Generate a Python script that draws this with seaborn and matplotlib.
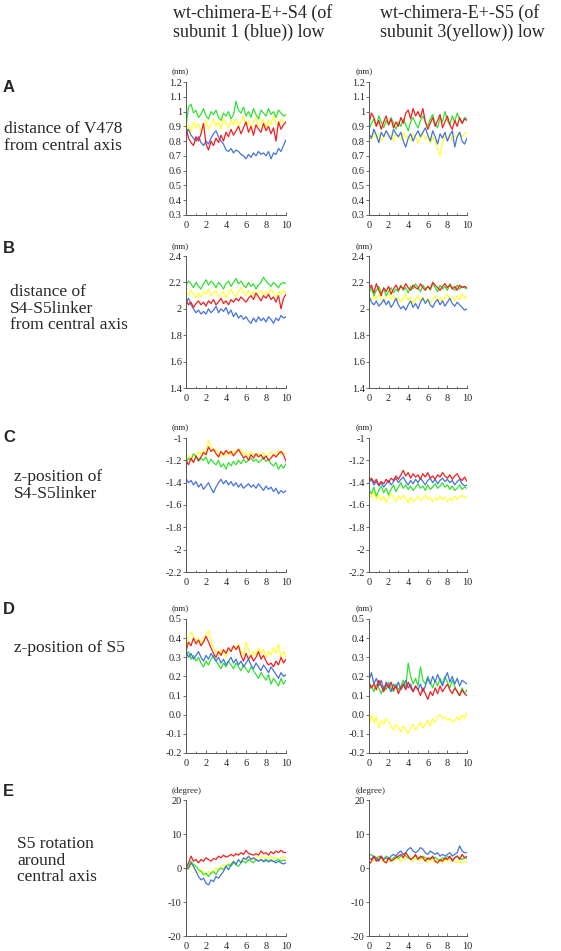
import numpy as np
import matplotlib.pyplot as plt
import seaborn as sns

sns.set_style('ticks')
plt.rcParams['font.family'] = ['Liberation Serif', 'DejaVu Serif']

# time axis (ns), one sample every 0.25 ns
t = np.linspace(0, 10, 41)

# --- A: distance of V478 from central axis ---
blue_A1 = [0.86,0.88,0.84,0.82,0.80,0.83,0.79,0.77,0.80,0.78,0.82,0.85,0.87,0.83,0.80,0.78,0.74,0.73,0.75,0.72,0.74,0.73,0.71,0.70,0.68,0.71,0.69,0.72,0.70,0.73,0.71,0.72,0.70,0.73,0.68,0.72,0.71,0.75,0.73,0.77,0.81]
green_A1 = [0.90,1.03,1.05,0.99,1.01,0.96,0.98,1.02,0.97,0.95,1.00,0.98,1.01,0.96,0.94,0.99,0.97,1.00,0.95,0.98,1.07,1.01,0.99,1.03,0.97,1.00,0.96,1.02,0.98,0.95,1.01,0.99,0.97,1.02,0.98,1.00,0.96,1.01,0.99,0.97,0.98]
yellow_A1 = [0.88,0.91,0.86,0.93,0.89,0.92,0.87,0.90,0.94,0.88,0.91,0.95,0.90,0.93,0.88,0.96,0.92,0.89,0.94,0.91,0.95,0.90,0.93,0.97,0.91,0.94,0.89,0.93,0.96,0.90,0.92,0.95,0.89,0.94,0.91,0.97,0.92,0.90,0.95,0.93,0.92]
red_A1 = [0.90,0.82,0.79,0.77,0.83,0.80,0.85,0.92,0.78,0.74,0.80,0.77,0.82,0.79,0.84,0.80,0.86,0.83,0.88,0.84,0.87,0.90,0.85,0.89,0.93,0.86,0.90,0.84,0.91,0.88,0.86,0.92,0.87,0.90,0.85,0.89,0.80,0.93,0.88,0.91,0.93]

blue_A2 = [0.85,0.82,0.88,0.84,0.79,0.86,0.83,0.87,0.84,0.81,0.88,0.85,0.83,0.86,0.80,0.76,0.82,0.85,0.80,0.84,0.87,0.83,0.86,0.89,0.84,0.80,0.87,0.83,0.78,0.85,0.82,0.86,0.80,0.84,0.87,0.76,0.83,0.86,0.80,0.78,0.82]
green_A2 = [0.88,0.92,0.95,0.90,0.97,0.93,0.89,0.94,0.91,0.96,0.92,0.88,0.93,0.90,0.95,0.91,0.87,0.93,0.96,0.92,0.89,0.94,0.97,0.93,0.90,0.95,0.98,0.92,0.89,0.96,0.93,1.00,0.94,0.91,0.97,0.93,0.99,0.95,0.92,0.96,0.95]
yellow_A2 = [0.84,0.81,0.86,0.82,0.85,0.80,0.83,0.87,0.82,0.84,0.80,0.85,0.83,0.81,0.86,0.82,0.84,0.80,0.85,0.83,0.79,0.82,0.86,0.81,0.84,0.78,0.83,0.80,0.74,0.70,0.79,0.83,0.81,0.85,0.80,0.84,0.82,0.86,0.83,0.85,0.86]
red_A2 = [0.92,0.99,0.96,0.90,0.94,0.88,0.93,0.97,0.91,0.95,0.89,0.93,0.90,0.96,0.92,0.99,1.01,0.95,1.02,0.97,1.00,0.96,1.02,0.93,0.88,0.92,0.96,0.90,0.94,0.98,0.89,0.93,0.97,0.91,0.88,0.94,0.90,0.96,0.92,0.95,0.94]

# --- B: distance of S4-S5linker from central axis ---
blue_B1 = [2.05,2.08,2.03,2.00,1.97,1.99,1.96,1.98,1.96,2.00,1.97,1.99,2.02,1.97,2.00,1.98,2.01,1.96,1.99,1.94,1.97,1.93,1.95,1.92,1.94,1.91,1.89,1.93,1.90,1.94,1.91,1.93,1.90,1.94,1.92,1.89,1.93,1.91,1.95,1.93,1.94]
green_B1 = [2.18,2.21,2.19,2.16,2.20,2.17,2.15,2.19,2.22,2.18,2.21,2.19,2.16,2.20,2.18,2.15,2.19,2.21,2.17,2.20,2.23,2.19,2.21,2.18,2.16,2.20,2.17,2.19,2.15,2.18,2.20,2.24,2.21,2.19,2.17,2.20,2.18,2.16,2.19,2.20,2.19]
yellow_B1 = [2.13,2.10,2.14,2.11,2.08,2.12,2.09,2.13,2.11,2.15,2.10,2.12,2.14,2.09,2.11,2.13,2.08,2.12,2.15,2.11,2.09,2.13,2.16,2.12,2.10,2.14,2.11,2.13,2.09,2.12,2.14,2.10,2.13,2.11,2.15,2.12,2.09,2.13,2.11,2.14,2.12]
red_B1 = [2.07,2.03,2.05,2.01,2.04,2.06,2.03,2.05,2.02,2.06,2.04,2.07,2.03,2.05,2.08,2.04,2.06,2.03,2.07,2.05,2.08,2.06,2.09,2.07,2.05,2.08,2.10,2.07,2.12,2.09,2.06,2.10,2.08,2.11,2.07,2.09,2.05,2.10,2.00,2.08,2.11]

blue_B2 = [2.10,2.05,2.03,2.06,2.02,2.04,2.07,2.03,2.06,2.01,2.04,2.08,2.03,2.00,2.02,1.99,2.03,2.06,2.01,2.04,2.00,2.05,2.08,2.04,2.07,2.03,2.01,2.05,2.07,2.03,2.06,2.02,2.05,2.08,2.04,2.02,2.05,2.03,2.01,1.99,2.00]
green_B2 = [2.12,2.16,2.10,2.14,2.17,2.12,2.15,2.10,2.13,2.16,2.12,2.15,2.13,2.18,2.14,2.16,2.12,2.17,2.15,2.19,2.16,2.13,2.18,2.15,2.17,2.14,2.19,2.16,2.13,2.18,2.15,2.17,2.14,2.19,2.16,2.14,2.18,2.15,2.17,2.16,2.15]
yellow_B2 = [2.09,2.06,2.10,2.07,2.11,2.08,2.05,2.09,2.12,2.07,2.10,2.06,2.09,2.05,2.08,2.11,2.06,2.09,2.04,2.07,2.10,2.06,2.09,2.05,2.08,2.04,2.07,2.10,2.06,2.09,2.05,2.08,2.11,2.07,2.09,2.06,2.10,2.07,2.11,2.08,2.10]
red_B2 = [2.15,2.18,2.12,2.19,2.14,2.10,2.16,2.13,2.17,2.11,2.15,2.18,2.14,2.17,2.15,2.19,2.16,2.14,2.18,2.16,2.15,2.19,2.16,2.14,2.17,2.15,2.20,2.18,2.16,2.14,2.17,2.19,2.16,2.18,2.15,2.17,2.14,2.18,2.16,2.17,2.16]

# --- C: z-position of S4-S5linker ---
blue_C1 = [-1.36,-1.40,-1.38,-1.42,-1.39,-1.44,-1.41,-1.46,-1.43,-1.40,-1.45,-1.49,-1.44,-1.40,-1.37,-1.41,-1.38,-1.42,-1.39,-1.43,-1.40,-1.44,-1.41,-1.45,-1.43,-1.41,-1.44,-1.42,-1.45,-1.41,-1.44,-1.47,-1.43,-1.46,-1.44,-1.48,-1.45,-1.50,-1.47,-1.49,-1.47]
green_C1 = [-1.22,-1.18,-1.20,-1.14,-1.17,-1.21,-1.18,-1.20,-1.17,-1.23,-1.19,-1.22,-1.24,-1.20,-1.26,-1.23,-1.28,-1.22,-1.25,-1.21,-1.24,-1.20,-1.23,-1.19,-1.22,-1.20,-1.18,-1.21,-1.19,-1.22,-1.20,-1.17,-1.21,-1.19,-1.23,-1.25,-1.22,-1.28,-1.24,-1.27,-1.23]
yellow_C1 = [-1.18,-1.15,-1.20,-1.14,-1.17,-1.12,-1.15,-1.11,-1.13,-1.02,-1.08,-1.12,-1.10,-1.14,-1.17,-1.13,-1.16,-1.12,-1.15,-1.11,-1.14,-1.12,-1.10,-1.15,-1.13,-1.16,-1.12,-1.15,-1.17,-1.14,-1.16,-1.13,-1.17,-1.15,-1.12,-1.16,-1.14,-1.11,-1.15,-1.13,-1.14]
red_C1 = [-1.20,-1.24,-1.18,-1.22,-1.16,-1.20,-1.17,-1.13,-1.15,-1.08,-1.12,-1.10,-1.14,-1.17,-1.12,-1.15,-1.11,-1.14,-1.12,-1.16,-1.13,-1.10,-1.14,-1.18,-1.16,-1.20,-1.15,-1.18,-1.14,-1.17,-1.15,-1.19,-1.16,-1.20,-1.18,-1.15,-1.17,-1.14,-1.12,-1.15,-1.21]

blue_C2 = [-1.40,-1.37,-1.42,-1.39,-1.43,-1.40,-1.44,-1.41,-1.38,-1.42,-1.39,-1.36,-1.40,-1.37,-1.35,-1.39,-1.42,-1.38,-1.41,-1.37,-1.40,-1.36,-1.39,-1.42,-1.38,-1.36,-1.40,-1.37,-1.41,-1.38,-1.36,-1.39,-1.37,-1.40,-1.38,-1.42,-1.39,-1.37,-1.41,-1.43,-1.42]
green_C2 = [-1.46,-1.50,-1.44,-1.52,-1.47,-1.43,-1.49,-1.45,-1.51,-1.46,-1.42,-1.48,-1.44,-1.40,-1.45,-1.42,-1.46,-1.43,-1.47,-1.44,-1.41,-1.45,-1.43,-1.47,-1.42,-1.46,-1.44,-1.41,-1.45,-1.43,-1.40,-1.44,-1.42,-1.46,-1.43,-1.47,-1.45,-1.42,-1.46,-1.44,-1.45]
yellow_C2 = [-1.50,-1.53,-1.48,-1.55,-1.51,-1.56,-1.52,-1.58,-1.54,-1.50,-1.53,-1.57,-1.52,-1.55,-1.51,-1.54,-1.58,-1.53,-1.57,-1.55,-1.52,-1.56,-1.54,-1.51,-1.55,-1.53,-1.57,-1.54,-1.56,-1.52,-1.55,-1.53,-1.57,-1.54,-1.56,-1.52,-1.55,-1.53,-1.51,-1.54,-1.52]
red_C2 = [-1.38,-1.36,-1.40,-1.37,-1.42,-1.39,-1.41,-1.37,-1.40,-1.36,-1.38,-1.34,-1.37,-1.33,-1.29,-1.34,-1.31,-1.36,-1.32,-1.35,-1.33,-1.37,-1.32,-1.35,-1.31,-1.36,-1.34,-1.37,-1.33,-1.35,-1.31,-1.34,-1.36,-1.33,-1.37,-1.34,-1.32,-1.36,-1.38,-1.35,-1.39]

# --- D: z-position of S5 ---
blue_D1 = [0.33,0.30,0.32,0.29,0.31,0.33,0.30,0.28,0.31,0.29,0.32,0.30,0.28,0.30,0.27,0.29,0.26,0.28,0.30,0.27,0.29,0.26,0.28,0.25,0.27,0.29,0.26,0.24,0.27,0.25,0.23,0.26,0.24,0.22,0.25,0.23,0.21,0.19,0.22,0.20,0.21]
green_D1 = [0.31,0.33,0.29,0.31,0.28,0.30,0.27,0.25,0.28,0.26,0.29,0.31,0.28,0.26,0.24,0.27,0.25,0.28,0.26,0.24,0.27,0.25,0.23,0.26,0.24,0.22,0.25,0.23,0.21,0.19,0.22,0.20,0.18,0.21,0.16,0.19,0.17,0.15,0.19,0.16,0.18]
yellow_D1 = [0.36,0.40,0.43,0.41,0.38,0.40,0.37,0.39,0.42,0.44,0.39,0.35,0.33,0.31,0.34,0.32,0.30,0.35,0.33,0.36,0.34,0.37,0.33,0.31,0.38,0.34,0.30,0.33,0.31,0.35,0.32,0.34,0.30,0.33,0.31,0.35,0.32,0.37,0.30,0.33,0.30]
red_D1 = [0.33,0.38,0.36,0.40,0.37,0.39,0.36,0.38,0.41,0.38,0.35,0.32,0.30,0.33,0.31,0.34,0.32,0.35,0.33,0.36,0.34,0.36,0.31,0.28,0.32,0.29,0.31,0.28,0.30,0.33,0.29,0.31,0.28,0.26,0.27,0.25,0.28,0.26,0.30,0.27,0.29]

blue_D2 = [0.18,0.22,0.16,0.19,0.15,0.18,0.13,0.17,0.15,0.12,0.16,0.14,0.17,0.13,0.15,0.18,0.14,0.16,0.12,0.15,0.13,0.16,0.12,0.15,0.19,0.16,0.20,0.17,0.21,0.18,0.15,0.19,0.22,0.17,0.20,0.16,0.19,0.15,0.18,0.17,0.16]
green_D2 = [0.13,0.15,0.12,0.16,0.14,0.11,0.15,0.13,0.17,0.14,0.12,0.16,0.13,0.15,0.18,0.14,0.27,0.20,0.16,0.19,0.15,0.25,0.18,0.16,0.20,0.17,0.14,0.18,0.15,0.19,0.16,0.20,0.17,0.14,0.18,0.15,0.12,0.10,0.14,0.11,0.13]
yellow_D2 = [-0.06,0.00,-0.04,-0.01,-0.07,-0.03,-0.05,-0.02,-0.04,-0.06,-0.08,-0.05,-0.07,-0.09,-0.06,-0.08,-0.10,-0.07,-0.05,-0.08,-0.06,-0.04,-0.07,-0.05,-0.03,-0.06,-0.02,-0.04,-0.01,0.00,-0.02,-0.01,-0.03,-0.02,-0.04,-0.03,-0.01,-0.03,0.00,-0.02,0.01]
red_D2 = [0.17,0.14,0.16,0.13,0.18,0.15,0.12,0.16,0.14,0.17,0.13,0.15,0.11,0.14,0.16,0.13,0.17,0.14,0.12,0.15,0.13,0.10,0.14,0.11,0.08,0.12,0.10,0.14,0.11,0.15,0.12,0.14,0.16,0.13,0.11,0.14,0.12,0.10,0.13,0.11,0.10]

# --- E: S5 rotation around central axis ---
blue_E1 = [-0.5,0.0,1.5,0.5,-1.0,-2.5,-3.5,-3.0,-4.5,-5.0,-3.5,-4.0,-2.5,-3.0,-2.0,-1.0,0.5,-0.5,1.0,2.0,1.0,2.5,1.5,3.0,2.5,3.5,2.5,3.0,2.5,2.0,2.5,2.0,2.5,1.8,2.2,2.0,1.5,2.0,1.5,1.2,1.5]
green_E1 = [-0.5,0.5,2.0,1.0,0.5,-0.5,-1.0,-2.0,-1.5,-2.5,-1.5,-1.0,-2.0,-0.5,0.0,-0.5,0.5,1.0,0.5,1.5,1.0,0.5,1.5,2.0,1.5,2.5,2.0,1.5,2.5,2.0,2.5,1.8,2.2,2.0,2.5,1.8,2.2,2.5,2.0,2.3,2.2]
yellow_E1 = [0.5,-0.5,1.0,0.0,-1.0,-1.5,-0.5,-1.5,-2.0,-1.0,-1.5,-0.5,0.0,-0.8,0.5,1.0,0.5,1.5,1.0,2.0,1.5,2.5,2.0,3.0,2.5,2.0,3.0,2.5,3.0,3.5,3.0,3.5,2.5,3.0,3.5,2.8,3.2,2.5,3.0,3.5,3.0]
red_E1 = [0.0,1.5,3.5,2.0,2.5,1.5,2.5,2.0,3.0,2.5,2.0,2.8,2.5,3.5,3.0,3.8,3.2,3.5,4.0,3.5,4.2,3.8,4.5,4.0,5.2,4.3,4.0,3.8,4.2,3.8,5.0,4.2,4.5,3.8,4.8,4.2,5.0,4.5,5.2,4.6,4.5]

blue_E2 = [3.0,2.5,3.5,3.0,2.0,3.5,2.5,3.0,2.5,3.5,4.0,3.5,4.5,5.0,4.0,4.5,5.5,6.0,5.0,4.5,5.0,6.0,5.5,4.5,4.0,5.0,4.5,4.0,4.5,3.5,4.0,3.5,4.0,4.5,3.5,4.0,4.5,6.5,5.0,4.5,4.5]
green_E2 = [3.5,4.0,3.0,2.5,3.5,3.0,2.5,3.5,3.0,2.5,3.0,3.5,2.8,3.5,4.0,3.5,3.0,2.5,3.0,3.5,3.0,2.8,3.5,3.0,2.5,3.0,2.8,3.2,2.5,2.0,3.0,2.5,3.5,3.0,2.5,3.0,3.5,3.0,2.5,3.0,2.8]
yellow_E2 = [2.5,3.0,2.0,2.5,3.5,2.0,2.5,1.5,2.0,2.5,2.0,3.0,2.5,2.0,3.0,2.5,3.5,2.5,2.0,3.0,2.5,2.0,3.0,2.5,1.5,2.5,2.0,1.8,2.5,2.0,1.5,2.5,2.0,3.0,2.5,2.0,1.5,2.0,1.5,2.0,1.5]
red_E2 = [1.0,2.0,3.5,2.0,2.5,3.5,2.0,1.5,3.0,2.0,2.5,3.0,3.5,4.0,3.0,4.5,3.5,2.5,3.0,4.0,2.5,3.5,3.0,2.0,3.0,2.5,3.5,2.0,1.5,2.5,2.0,3.0,2.5,3.5,2.0,3.0,3.5,2.5,4.0,3.0,3.5]

col_titles = ['wt-chimera-E+-S4 (of\nsubunit 1 (blue)) low',
              'wt-chimera-E+-S5 (of\nsubunit 3(yellow)) low']
row_letters = ['A', 'B', 'C', 'D', 'E']
row_texts = ['distance of V478\nfrom central axis',
             'distance of\nS4-S5linker\nfrom central axis',
             'z-position of\nS4-S5linker',
             'z-position of S5',
             'S5 rotation\naround\ncentral axis']
units = ['(nm)', '(nm)', '(nm)', '(nm)', '(degree)']
yticks = [[0.3, 0.4, 0.5, 0.6, 0.7, 0.8, 0.9, 1, 1.1, 1.2],
          [1.4, 1.6, 1.8, 2, 2.2, 2.4],
          [-2.2, -2, -1.8, -1.6, -1.4, -1.2, -1],
          [-0.2, -0.1, 0.0, 0.1, 0.2, 0.3, 0.4, 0.5],
          [-20, -10, 0, 10, 20]]
ytick_labels = [['0.3', '0.4', '0.5', '0.6', '0.7', '0.8', '0.9', '1', '1.1', '1.2'],
                ['1.4', '1.6', '1.8', '2', '2.2', '2.4'],
                ['-2.2', '-2', '-1.8', '-1.6', '-1.4', '-1.2', '-1'],
                ['-0.2', '-0.1', '0.0', '0.1', '0.2', '0.3', '0.4', '0.5'],
                ['-20', '-10', '0', '10', '20']]

# series per panel, drawn yellow, green, blue, red (red on top)
panels = [
    [(yellow_A1, green_A1, blue_A1, red_A1), (yellow_A2, green_A2, blue_A2, red_A2)],
    [(yellow_B1, green_B1, blue_B1, red_B1), (yellow_B2, green_B2, blue_B2, red_B2)],
    [(yellow_C1, green_C1, blue_C1, red_C1), (yellow_C2, green_C2, blue_C2, red_C2)],
    [(yellow_D1, green_D1, blue_D1, red_D1), (yellow_D2, green_D2, blue_D2, red_D2)],
    [(yellow_E1, green_E1, blue_E1, red_E1), (yellow_E2, green_E2, blue_E2, red_E2)],
]
line_colors = ['#ffff33', '#33e033', '#4573e0', '#f02020']

W, H = 561, 951
fig = plt.figure(figsize=(W / 100, H / 100), dpi=100)

# axes boxes in pixels: (top, bottom) per row, (left, right) per column
row_px = [(82, 215), (256, 388), (438, 572), (619, 753), (800, 936)]
col_px = [(186, 286), (369, 467)]

for r in range(5):
    top, bot = row_px[r]
    for c in range(2):
        left, right = col_px[c]
        ax = fig.add_axes([left / W, 1 - bot / H, (right - left) / W, (bot - top) / H])
        for y, col in zip(panels[r][c], line_colors):
            sns.lineplot(x=t, y=y, ax=ax, color=col, linewidth=0.9)
        ax.set_xlim(0, 10)
        ax.set_ylim(yticks[r][0], yticks[r][-1])
        ax.set_xticks([0, 2, 4, 6, 8, 10])
        ax.set_xticks([1, 3, 5, 7, 9], minor=True)
        ax.set_yticks(yticks[r])
        ax.set_yticklabels(ytick_labels[r])
        ax.tick_params(axis='x', direction='in', length=2, width=0.6,
                       labelsize=7.5, pad=4, color='#555555')
        ax.tick_params(axis='x', which='minor', direction='in', length=1.5,
                       width=0.5, color='#555555')
        ax.tick_params(axis='y', direction='out', length=2, width=0.6,
                       labelsize=7.5, pad=1, color='#555555')
        for s in ['top', 'right']:
            ax.spines[s].set_visible(False)
        for s in ['left', 'bottom']:
            ax.spines[s].set_linewidth(0.7)
            ax.spines[s].set_color('#555555')
        ax.set_xlabel('')
        ax.set_ylabel('')
        ax.text(-0.14, 1.04, units[r], transform=ax.transAxes,
                fontsize=6.5, ha='left', va='bottom')

# column titles
fig.text(173 / W, 1 - 4 / H, col_titles[0], fontsize=13, ha='left', va='top',
         linespacing=1.1)
fig.text(380 / W, 1 - 4 / H, col_titles[1], fontsize=13, ha='left', va='top',
         linespacing=1.1)

# row labels
letter_y = [88, 249, 437, 609, 792]
text_y = [121, 284, 469, 640, 836]
text_x = [4, 10, 14, 14, 17]
for r in range(5):
    fig.text(3 / W, 1 - letter_y[r] / H, row_letters[r], fontsize=12,
             fontweight='bold', family=['Liberation Sans', 'DejaVu Sans'],
             ha='left', va='center')
    fig.text(text_x[r] / W, 1 - text_y[r] / H, row_texts[r], fontsize=12.5,
             ha='left', va='top', linespacing=1.05)

fig.savefig('out.png', dpi=100)
